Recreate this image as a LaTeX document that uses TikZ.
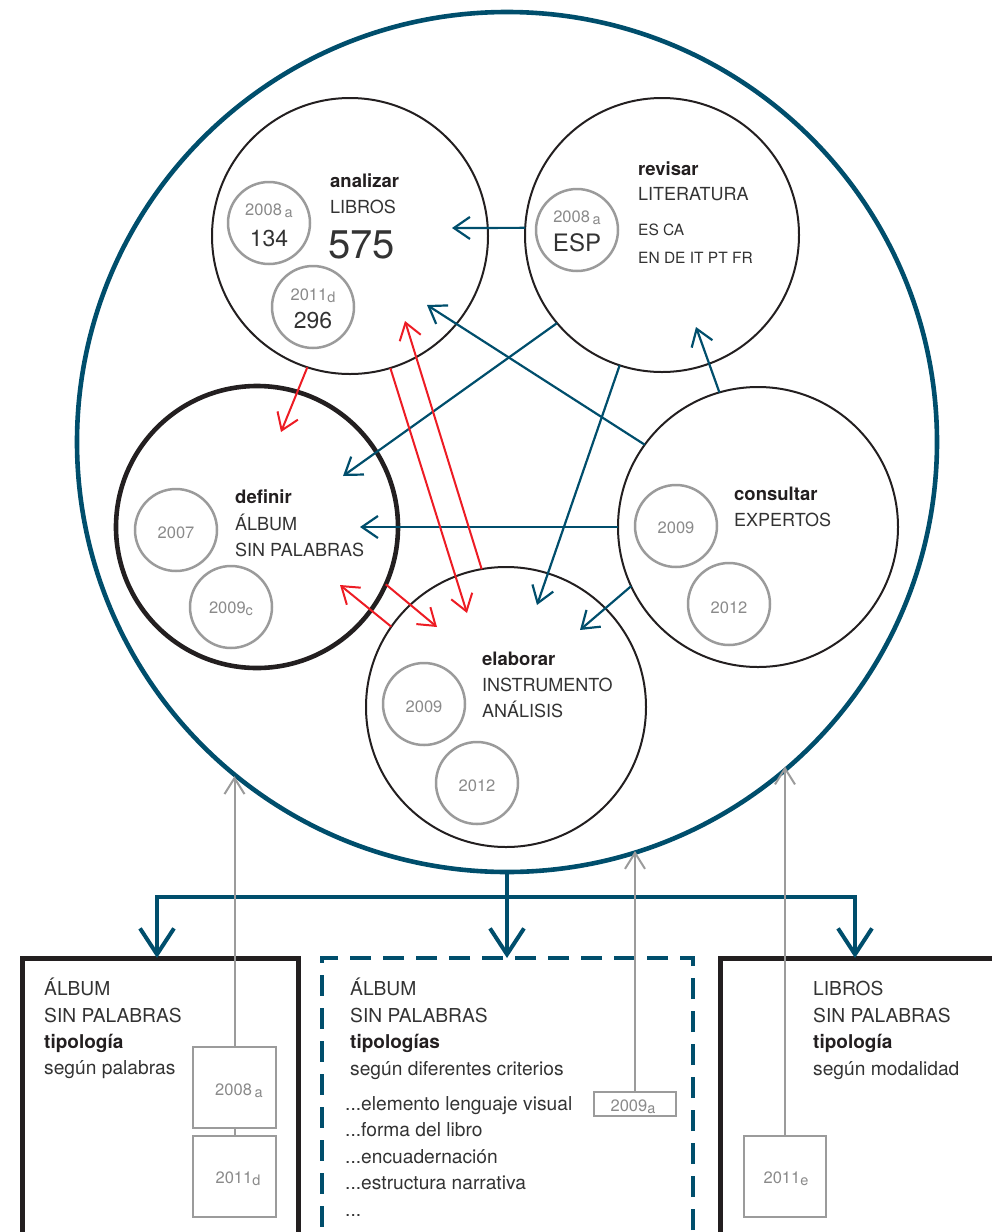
\documentclass[tikz,border=0pt]{standalone}
\usepackage{fontspec}
\setmainfont{TeX Gyre Heros}
\usetikzlibrary{arrows.meta,calc}
\definecolor{tealD}{HTML}{004E6C}
\definecolor{redA}{HTML}{ED1C24}
\definecolor{grayL}{HTML}{9B9B9B}
\definecolor{grayT}{HTML}{8A8A8A}
\definecolor{ink}{HTML}{231F20}
\definecolor{inkL}{HTML}{333333}
\newcommand{\mysub}[1]{\raisebox{-2.5pt}{\fontsize{14.5}{14.5}\selectfont #1}}
\begin{document}
\begin{tikzpicture}[x=1pt,y=-1pt,
  bigc/.style={circle, draw=tealD, line width=4.6pt, minimum size=860pt, inner sep=0pt, outer sep=0pt},
  mc/.style={circle, draw=ink, line width=2pt, minimum size=276pt, inner sep=0pt, outer sep=0pt},
  gc/.style={circle, draw=grayL, line width=2.5pt, minimum size=82pt, inner sep=0pt, outer sep=0pt},
  gbox/.style={draw=grayL, line width=2.4pt, minimum width=83pt, minimum height=81pt, inner sep=0pt, outer sep=0pt},
  tx/.style={anchor=base west, inner sep=0pt, text=inkL, font=\fontsize{18}{18}\selectfont},
  bx/.style={anchor=base west, inner sep=0pt, text=ink, font=\fontsize{18.5}{18.5}\selectfont\bfseries},
  sx/.style={anchor=base west, inner sep=0pt, text=inkL, font=\fontsize{15.5}{15.5}\selectfont},
  lx/.style={anchor=base west, inner sep=0pt, text=inkL, font=\fontsize{19.2}{19.2}\selectfont},
  lbx/.style={anchor=base west, inner sep=0pt, text=ink, font=\fontsize{19}{19}\selectfont\bfseries},
  yr/.style={anchor=base, inner sep=0pt, text=grayT, font=\fontsize{16.5}{16.5}\selectfont},
  num/.style={anchor=base, inner sep=0pt, text=inkL, font=\fontsize{23}{23}\selectfont},
  tarr/.style={draw=tealD, line width=2.2pt, -{Straight Barb[length=16pt,width=22pt]}},
  rarr/.style={draw=redA, line width=2pt, -{Straight Barb[length=16pt,width=22pt]}},
  garr/.style={draw=grayL, line width=2pt, -{Straight Barb[length=16pt,width=20pt]}},
  gline/.style={draw=grayL, line width=2pt},
  tbig/.style={draw=tealD, line width=4pt, -{Straight Barb[length=26pt,width=34pt]}},
  tline/.style={draw=tealD, line width=4pt}
]
\useasboundingbox (0,0) rectangle (991,1232);

% ---- circles
\node[bigc] (big) at (507,442) {};
\node[mc] (ana) at (350,236) {};
\node[mc, minimum size=274pt] (rev) at (662,235) {};
\node[mc, line width=4.6pt, minimum size=282pt] (def) at (257,527) {};
\node[mc, minimum size=280pt] (con) at (758,527) {};
\node[mc, minimum size=280pt] (ela) at (506,707) {};

\node[gc] (a1) at (269,223) {};
\node[gc] (a2) at (313,307) {};
\node[gc] (r1) at (577,230) {};
\node[gc] (d1) at (176,530) {};
\node[gc] (d2) at (231,607) {};
\node[gc] (e1) at (424,704) {};
\node[gc] (e2) at (477,783) {};
\node[gc] (c1) at (676,526) {};
\node[gc] (c2) at (729,604) {};

% ---- texts in circles
\node[bx] (tana1) at (330,187) {analizar};
\node[tx] (tana2) at (330,213) {LIBROS};
\node[anchor=base west, inner sep=0pt, text=inkL, font=\fontsize{40}{40}\selectfont] (tana3) at (328,258) {575};
\node[yr] (ta1y) at (269,215) {2008\,\mysub{a}};
\node[num] (ta1n) at (269,246) {134};
\node[yr] (ta2y) at (313,300) {2011\mysub{d}};
\node[num] (ta2n) at (313,328) {296};

\node[bx] (trev1) at (638,175) {revisar};
\node[tx] (trev2) at (638,200) {LITERATURA};
\node[sx] (trev3) at (638,235) {ES CA};
\node[sx] (trev4) at (638,263) {EN DE IT PT FR};
\node[yr] (tr1y) at (577,222) {2008\,\mysub{a}};
\node[num, font=\fontsize{24}{24}\selectfont] (tr1n) at (577,251) {ESP};

\node[bx] (tdef1) at (235,503) {definir};
\node[tx] (tdef2) at (235,530) {ÁLBUM};
\node[tx] (tdef3) at (235,556) {SIN PALABRAS};
\node[yr] (td1) at (176,538) {2007};
\node[yr] (td2) at (231,613) {2009\mysub{c}};

\node[bx] (tela1) at (482,665) {elaborar};
\node[tx] (tela2) at (482,691) {INSTRUMENTO};
\node[tx] (tela3) at (482,717) {ANÁLISIS};
\node[yr] (te1) at (424,712) {2009};
\node[yr] (te2) at (477,791) {2012};

\node[bx] (tcon1) at (734,500) {consultar};
\node[tx] (tcon2) at (734,526) {EXPERTOS};
\node[yr] (tc1) at (676,533) {2009};
\node[yr] (tc2) at (729,613) {2012};

% ---- arrow tips (free ends)
\coordinate (t1) at (452,228);
\coordinate (t2) at (427,305);
\coordinate (t3) at (343,476);
\coordinate (t4) at (360,527);
\coordinate (t5) at (537,605);
\coordinate (t6) at (580,630);
\coordinate (t7) at (696,327);
\coordinate (q1) at (281,432);
\coordinate (q2) at (405,321);
\coordinate (q3) at (467,613);
\coordinate (q4) at (437,627);
\coordinate (q5) at (340,585);

% teal connectors
\draw[tarr] (rev.177.5) -- (t1);
\draw[tarr] (con.144.5) -- (t2);
\draw[tarr] (rev.220) -- (t3);
\draw[tarr] (con.180) -- (t4);
\draw[tarr] (rev.252.5) -- (t5);
\draw[tarr] (con.205.5) -- (t6);
\draw[tarr] (con.106.9) -- (t7);
% red connectors
\draw[rarr] (ana.252.6) -- (q1);
\draw[rarr] (ela.100.5) -- (q2);
\draw[rarr] (ana.287.3) -- (q3);
\draw[rarr] (def.336) -- (q4);
\draw[rarr] (ela.145.2) -- (q5);

% ---- bottom boxes
\node[draw=ink, line width=5pt, minimum width=276pt, minimum height=330pt, anchor=north west, inner sep=0pt, outer sep=0pt] (lbox) at (22,958) {};
\node[draw=tealD, line width=4pt, dash pattern=on 21pt off 12pt, minimum width=371pt, minimum height=330pt, anchor=north west, inner sep=0pt, outer sep=0pt] (mbox) at (322,958) {};
\node[draw=ink, line width=5pt, minimum width=300pt, minimum height=330pt, anchor=north west, inner sep=0pt, outer sep=0pt] (rbox) at (720,958) {};

\coordinate (j) at (507,897);
\draw[tline] (big.south) -- (j);
\draw[tbig] (j) -- (j |- mbox.north);
\draw[tbig] (j) -| ($(lbox.north west)+(135,0)$);
\draw[tbig] (j) -| ($(rbox.north west)+(135,0)$);

% box texts
\node[lx] (l1) at (44,995) {ÁLBUM};
\node[lx] (l2) at (44,1022) {SIN PALABRAS};
\node[lbx] (l3) at (44,1048) {tipología};
\node[lx] (l4) at (44,1074) {según palabras};

\node[lx] (m1) at (350,995) {ÁLBUM};
\node[lx] (m2) at (350,1022) {SIN PALABRAS};
\node[lbx] (m3) at (350,1048) {tipologías};
\node[lx] (m4) at (350,1075) {según diferentes criterios};
\node[lx] (m5) at (345,1110) {...elemento lenguaje visual};
\node[lx] (m6) at (345,1136) {...forma del libro};
\node[lx] (m7) at (345,1163) {...encuadernación};
\node[lx] (m8) at (345,1189) {...estructura narrativa};
\node[lx] (m9) at (345,1216) {...};

\node[lx] (r1t) at (813,995) {LIBROS};
\node[lx] (r2t) at (813,1022) {SIN PALABRAS};
\node[lbx] (r3t) at (813,1048) {tipología};
\node[lx] (r4t) at (813,1075) {según modalidad};

% gray boxes
\node[gbox, fill=white] (g1) at (234.5,1087.5) {};
\node[gbox, fill=white] (g2) at (234.5,1176.5) {};
\node[gbox, fill=white, minimum width=82pt, minimum height=24pt] (g3) at (635,1104) {};
\node[gbox, fill=white, minimum width=82pt] (g4) at (785,1176.5) {};
\node[yr] (g1t) at (239,1095) {2008\,\mysub{a}};
\node[yr] (g2t) at (238,1183) {2011\mysub{d}};
\node[yr] (g3t) at (633,1111) {2009\mysub{a}};
\node[yr] (g4t) at (786,1183) {2011\mysub{e}};

\draw[garr] (g1.north) -- (g1.north |- big.-129.3);
\draw[gline] (g1.south) -- (g2.north);
\draw[garr] (g3.north) -- (g3.north |- big.-72.7);
\draw[garr] (g4.north) -- (g4.north |- big.-49.7);
\end{tikzpicture}
\end{document}
